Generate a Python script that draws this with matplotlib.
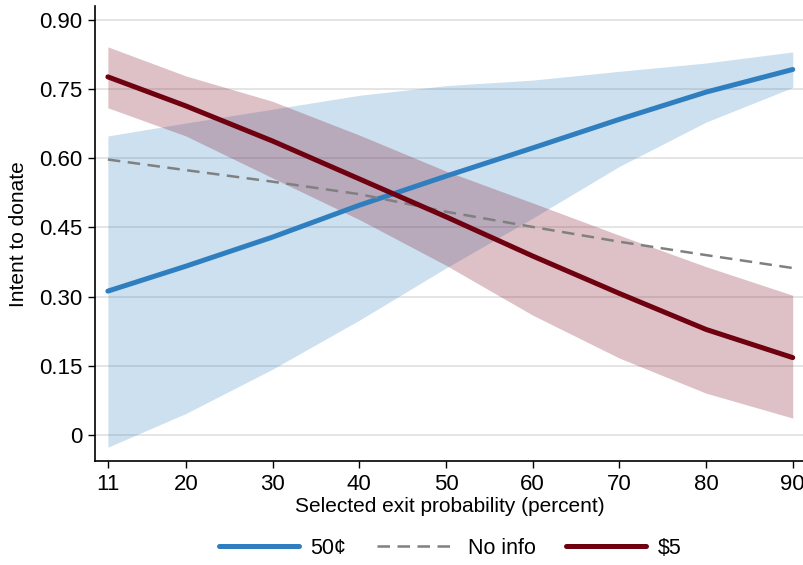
import matplotlib
matplotlib.use("Agg")
import matplotlib.pyplot as plt

plt.rcParams['font.family'] = ['Liberation Sans', 'DejaVu Sans']

# data
exit_prob = [11, 20, 30, 40, 50, 60, 70, 80, 90]

cents50 = [0.312, 0.366, 0.429, 0.498, 0.561, 0.622, 0.684, 0.743, 0.792]
cents50_hi = [0.648, 0.676, 0.706, 0.736, 0.757, 0.769, 0.788, 0.806, 0.830]
cents50_lo = [-0.026, 0.047, 0.143, 0.249, 0.362, 0.470, 0.582, 0.678, 0.753]

no_info = [0.597, 0.574, 0.549, 0.522, 0.484, 0.451, 0.419, 0.390, 0.362]

dollar5 = [0.776, 0.713, 0.637, 0.555, 0.473, 0.388, 0.307, 0.229, 0.168]
dollar5_hi = [0.841, 0.778, 0.723, 0.650, 0.572, 0.503, 0.433, 0.365, 0.303]
dollar5_lo = [0.709, 0.648, 0.557, 0.467, 0.368, 0.260, 0.167, 0.091, 0.037]

y_ticks = [0, 0.15, 0.30, 0.45, 0.60, 0.75, 0.90]
y_labels = ['0', '0.15', '0.30', '0.45', '0.60', '0.75', '0.90']

blue = '#2f7fc0'
red = '#6e0010'

fig = plt.figure(figsize=(8.04, 5.65), dpi=100)
ax = fig.add_axes([0.118, 0.184, 0.882, 0.805])

ax.fill_between(exit_prob, cents50_lo, cents50_hi, color=blue, alpha=0.24, linewidth=0)
ax.fill_between(exit_prob, dollar5_lo, dollar5_hi, color='#7a0a1c', alpha=0.25, linewidth=0)

ax.plot(exit_prob, cents50, color=blue, lw=3.6, label='50¢', solid_capstyle='round')
ax.plot(exit_prob, no_info, color='#808080', lw=1.8, ls=(0, (5, 3)), label='No info')
ax.plot(exit_prob, dollar5, color=red, lw=3.6, label='$5', solid_capstyle='round')

ax.set_xlim(9.5, 91.3)
ax.set_ylim(-0.056, 0.929)
ax.set_xticks(exit_prob)
ax.set_yticks(y_ticks)
ax.set_yticklabels(y_labels)
ax.tick_params(labelsize=16, length=5, width=1, color='black', pad=4)
ax.grid(axis='y', color='#e0e0e0', lw=1.2)
ax.set_axisbelow(True)
for s in ['top', 'right']:
    ax.spines[s].set_visible(False)
ax.spines['left'].set_linewidth(1.2)
ax.spines['bottom'].set_linewidth(1.2)

ax.set_xlabel('Selected exit probability (percent)', fontsize=15, labelpad=2)
ax.set_ylabel('Intent to donate', fontsize=15, labelpad=8)

fig.legend(loc='center', bbox_to_anchor=(0.56, 0.03), ncol=3, frameon=False,
           fontsize=15.5, handlelength=3.7, columnspacing=1.4, handletextpad=0.55)

fig.savefig('out.png', dpi=100)
